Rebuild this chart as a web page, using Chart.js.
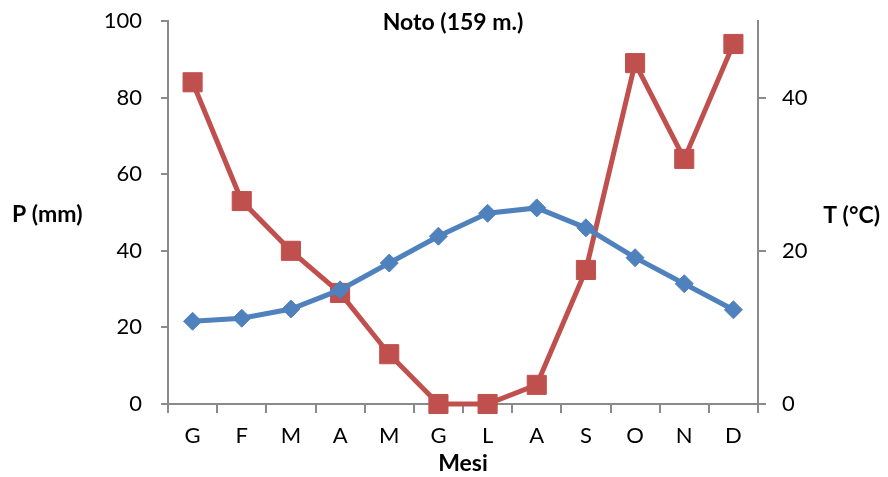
<!DOCTYPE html>
<html><head><meta charset="utf-8">
<script src="https://cdn.jsdelivr.net/npm/chart.js@4/dist/chart.umd.min.js"></script>
<style>html,body{margin:0;padding:0;background:#fff;}#wrap{width:888px;height:477px;position:relative;}</style>
</head><body><div id="wrap"><canvas id="c" width="888" height="477"></canvas></div>
<script>
const months = ['G','F','M','A','M','G','L','A','S','O','N','D'];
const precip = [84, 53, 40, 29, 13, 0, 0, 5, 35, 89, 64, 94];
const temp = [10.8, 11.2, 12.4, 14.9, 18.4, 21.9, 24.9, 25.6, 23.0, 19.1, 15.7, 12.3];
const pTicks = [0, 20, 40, 60, 80, 100];
const tTicks = [0, 20, 40];
const chartTitle = 'Noto (159 m.)';
const leftTitle = 'P (mm)';
const rightTitle = 'T (°C)';
const xTitle = 'Mesi';

const FONT = 'Lato, "Open Sans", sans-serif';
const AXIS = '#8a8a8a';

const textPlugin = {
  id: 'texts',
  afterDraw(chart) {
    const ctx = chart.ctx;
    ctx.save();
    ctx.fillStyle = '#000';
    ctx.textBaseline = 'middle';
    ctx.font = 'bold 23px ' + FONT;
    ctx.textAlign = 'center';
    ctx.fillText(chartTitle, 453, 23);
    ctx.textAlign = 'left';
    ctx.fillText(leftTitle, 12, 215);
    ctx.textAlign = 'right';
    ctx.fillText(rightTitle, 880, 216);
    ctx.restore();
  }
};

function fixV(width) {
  return function (s) { s.width = width; s.paddingTop = 0; s.paddingBottom = 0; };
}

new Chart(document.getElementById('c'), {
  type: 'line',
  data: {
    labels: months,
    datasets: [
      {
        label: 'T', data: temp, yAxisID: 'y1',
        borderColor: '#4F81BD', backgroundColor: '#4F81BD',
        borderWidth: 5, pointStyle: 'rectRot', pointRadius: 9, pointBorderWidth: 1,
        pointHoverRadius: 9, tension: 0, clip: false
      },
      {
        label: 'P', data: precip, yAxisID: 'y',
        borderColor: '#C0504D', backgroundColor: '#C0504D',
        borderWidth: 5, pointStyle: 'rect', pointRadius: 13.5, pointBorderWidth: 1,
        pointHoverRadius: 13.5, tension: 0, clip: false
      }
    ]
  },
  options: {
    responsive: false, animation: false,
    layout: { padding: { top: 21, left: 0, right: 0, bottom: 0 } },
    plugins: { legend: { display: false }, tooltip: { enabled: false }, title: { display: false } },
    scales: {
      x: {
        offset: true,
        grid: { display: true, drawOnChartArea: false, offset: true, tickLength: 9, color: AXIS, lineWidth: 2 },
        border: { display: true, color: AXIS, width: 2 },
        ticks: { color: '#000', font: { family: FONT, size: 22 }, padding: 10, maxRotation: 0, autoSkip: false },
        title: { display: true, text: xTitle, color: '#000', font: { family: FONT, size: 23, weight: 'bold' }, padding: { top: 0, bottom: 0 } },
        afterFit(s) { s.height = 73; s.paddingLeft = 0; s.paddingRight = 0; }
      },
      y: {
        position: 'left', min: 0, max: 100,
        afterBuildTicks(s) { s.ticks = pTicks.map(v => ({ value: v })); },
        grid: { display: true, drawOnChartArea: false, tickLength: 7, color: AXIS, lineWidth: 2 },
        border: { display: true, color: AXIS, width: 2 },
        ticks: { color: '#000', font: { family: FONT, size: 22 }, padding: 19 },
        afterFit: fixV(168)
      },
      y1: {
        position: 'right', min: 0, max: 50,
        afterBuildTicks(s) { s.ticks = tTicks.map(v => ({ value: v })); },
        grid: { display: true, drawOnChartArea: false, tickLength: 8, color: AXIS, lineWidth: 2 },
        border: { display: true, color: AXIS, width: 2 },
        ticks: { color: '#000', font: { family: FONT, size: 22 }, padding: 16 },
        afterFit: fixV(130)
      }
    }
  },
  plugins: [textPlugin]
});
</script></body></html>
